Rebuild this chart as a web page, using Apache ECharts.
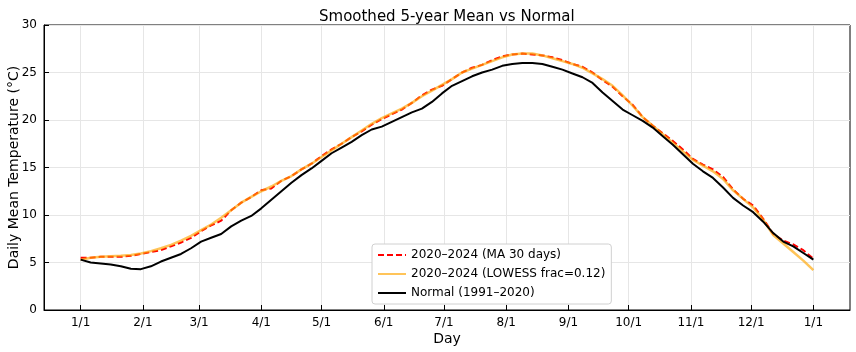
<!DOCTYPE html>
<html>
<head>
<meta charset="utf-8">
<title>Smoothed 5-year Mean vs Normal</title>
<script src="https://cdn.jsdelivr.net/npm/echarts@6/dist/echarts.min.js"></script>
<style>
  html, body { margin: 0; height: 100%; background: #fff; }
</style>
</head>
<body>
<div id="main" style="width:856px;height:352px;"></div>
<script>
// day of year (0 = 1 Jan), sampled every 5 days
var days = [0, 5, 10, 15, 20, 25, 30, 35, 40, 45, 50, 55, 60, 65, 70, 75, 80, 85, 90, 95,
  100, 105, 110, 115, 120, 125, 130, 135, 140, 145, 150, 155, 160, 165, 170, 175, 180, 185, 190, 195,
  200, 205, 210, 215, 220, 225, 230, 235, 240, 245, 250, 255, 260, 265, 270, 275, 280, 285, 290, 295,
  300, 305, 310, 315, 320, 325, 330, 335, 340, 345, 350, 355, 360, 365];

// 2020-2024, 30 day moving average
var maValues = [5.5, 5.5, 5.6, 5.6, 5.6, 5.7, 5.9, 6.1, 6.3, 6.7, 7.1, 7.6, 8.3, 8.9, 9.4, 10.5, 11.3, 11.9, 12.6, 12.8,
  13.6, 14.1, 14.8, 15.4, 16.2, 16.9, 17.5, 18.2, 18.8, 19.5, 20.1, 20.6, 21.1, 21.8, 22.6, 23.2, 23.6, 24.3, 25.0, 25.5,
  25.8, 26.3, 26.7, 26.9, 27.0, 26.9, 26.8, 26.6, 26.3, 25.9, 25.6, 25.0, 24.2, 23.5, 22.5, 21.6, 20.3, 19.4, 18.6, 17.8,
  16.9, 15.9, 15.3, 14.8, 14.0, 12.7, 11.7, 11.0, 9.6, 8.0, 7.3, 6.9, 6.3, 5.4];

// 2020-2024, LOWESS frac=0.12
var lowessValues = [5.3, 5.5, 5.6, 5.65, 5.7, 5.8, 5.95, 6.2, 6.5, 6.85, 7.3, 7.8, 8.4, 9.0, 9.7, 10.5, 11.3, 11.9, 12.5, 13.0,
  13.6, 14.1, 14.8, 15.4, 16.1, 16.8, 17.5, 18.2, 18.9, 19.6, 20.2, 20.7, 21.2, 21.8, 22.5, 23.1, 23.7, 24.3, 25.0, 25.4,
  25.8, 26.2, 26.6, 26.9, 27.0, 27.0, 26.8, 26.5, 26.2, 25.9, 25.5, 24.9, 24.3, 23.6, 22.6, 21.5, 20.3, 19.4, 18.5, 17.6,
  16.7, 15.8, 15.2, 14.6, 13.8, 12.6, 11.7, 10.8, 9.5, 7.9, 7.0, 6.1, 5.2, 4.2];

// Normal 1991-2020
var normalValues = [5.3, 5.0, 4.9, 4.8, 4.6, 4.35, 4.3, 4.6, 5.1, 5.5, 5.9, 6.5, 7.2, 7.6, 8.0, 8.8, 9.4, 9.9, 10.7, 11.6,
  12.5, 13.4, 14.2, 14.9, 15.7, 16.5, 17.1, 17.7, 18.4, 19.0, 19.3, 19.8, 20.3, 20.8, 21.2, 21.9, 22.8, 23.6, 24.1, 24.6,
  25.0, 25.3, 25.7, 25.9, 26.0, 26.0, 25.9, 25.6, 25.3, 24.9, 24.5, 23.9, 22.9, 22.0, 21.1, 20.5, 19.9, 19.2, 18.3, 17.4,
  16.4, 15.4, 14.6, 13.9, 12.9, 11.8, 11.0, 10.3, 9.3, 8.1, 7.2, 6.7, 6.0, 5.3];

var tickDays = [0, 31, 59, 90, 120, 151, 181, 212, 243, 273, 304, 334, 365];
var tickLabels = ['1/1', '2/1', '3/1', '4/1', '5/1', '6/1', '7/1', '8/1', '9/1', '10/1', '11/1', '12/1', '1/1'];

var seriesNames = ['2020–2024 (MA 30 days)', '2020–2024 (LOWESS frac=0.12)', 'Normal (1991–2020)'];

function pairs(vals) {
  return days.map(function (d, i) { return [d, vals[i]]; });
}

var font = 'DejaVu Sans';
var myChart = echarts.init(document.getElementById('main'), null, { renderer: 'canvas' });

var option = {
  animation: false,
  backgroundColor: '#fff',
  textStyle: { fontFamily: font },
  title: {
    text: 'Smoothed 5-year Mean vs Normal',
    left: 314,
    top: 5,
    textStyle: { fontFamily: font, fontSize: 15, fontWeight: 'normal', color: '#000' }
  },
  grid: {
    left: 44, right: 6, top: 25, bottom: 42,
    outerBoundsMode: 'none',
    containLabel: false,
    show: true, borderColor: '#000', borderWidth: 1, backgroundColor: 'transparent'
  },
  legend: {
    orient: 'vertical',
    left: 372, top: 244,
    itemWidth: 28, itemHeight: 12, itemGap: 7,
    padding: [5, 6, 5, 5],
    backgroundColor: '#fff',
    borderColor: '#d0d0d0', borderWidth: 1, borderRadius: 3,
    itemStyle: { opacity: 0 },
    textStyle: { fontFamily: font, fontSize: 12, color: '#000' },
    data: seriesNames
  },
  xAxis: {
    type: 'value',
    min: -18.25, max: 383.25,
    name: 'Day',
    nameLocation: 'middle',
    nameGap: 22,
    nameMoveOverlap: false,
    nameTextStyle: { fontFamily: font, fontSize: 14, color: '#000' },
    axisLine: { show: true, onZero: false, lineStyle: { color: '#000', width: 1 } },
    axisTick: { show: true, inside: true, length: 5, customValues: tickDays, lineStyle: { color: '#000' } },
    axisLabel: {
      customValues: tickDays, fontFamily: font, fontSize: 12, color: '#000', margin: 7,
      formatter: function (v) { return tickLabels[tickDays.indexOf(v)]; }
    },
    splitLine: { show: true, lineStyle: { color: '#e6e6e6', width: 1 } }
  },
  yAxis: {
    type: 'value',
    min: 0, max: 30, interval: 5,
    name: 'Daily Mean Temperature (°C)',
    nameLocation: 'middle',
    nameGap: 23,
    nameMoveOverlap: false,
    nameTextStyle: { fontFamily: font, fontSize: 14, color: '#000' },
    axisLine: { show: true, onZero: false, lineStyle: { color: '#000', width: 1 } },
    axisTick: { show: true, inside: true, length: 5, lineStyle: { color: '#000' } },
    axisLabel: { fontFamily: font, fontSize: 12, color: '#000', margin: 7 },
    splitLine: { show: true, lineStyle: { color: '#e6e6e6', width: 1 } }
  },
  series: [
    {
      name: seriesNames[0], type: 'line', symbol: 'none', z: 2,
      data: pairs(maValues),
      itemStyle: { color: '#ff0000' },
      lineStyle: { color: '#ff0000', width: 2, type: [6, 3] }
    },
    {
      name: seriesNames[1], type: 'line', symbol: 'none', z: 3,
      data: pairs(lowessValues),
      itemStyle: { color: 'rgba(255,165,0,0.65)' },
      lineStyle: { color: 'rgba(255,165,0,0.65)', width: 2.5 }
    },
    {
      name: seriesNames[2], type: 'line', symbol: 'none', z: 4,
      data: pairs(normalValues),
      itemStyle: { color: '#000' },
      lineStyle: { color: '#000', width: 2 }
    }
  ]
};

myChart.setOption(option);
</script>
</body>
</html>
